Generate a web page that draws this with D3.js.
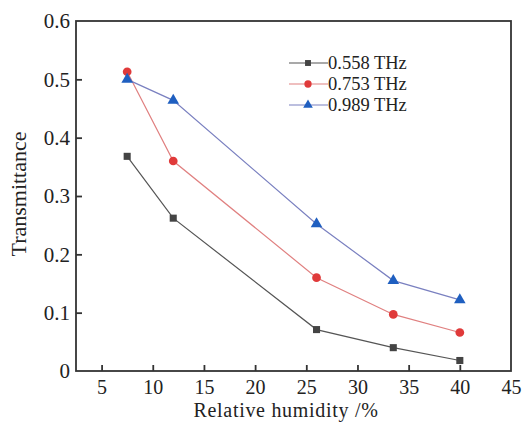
<!DOCTYPE html>
<html>
<head>
<meta charset="utf-8">
<script src="https://cdn.jsdelivr.net/npm/d3@7"></script>
<style>
  body { margin: 0; background: #fff; }
  .axis path, .axis line { stroke: #333; stroke-width: 1.8; }
</style>
</head>
<body>
<script>
// data
var humidity = [7.5, 12, 26, 33.5, 40];
var t558 = [0.368, 0.262, 0.071, 0.040, 0.018];
var t753 = [0.513, 0.360, 0.160, 0.097, 0.066];
var t989 = [0.500, 0.464, 0.252, 0.155, 0.122];
var seriesNames = ['0.558 THz', '0.753 THz', '0.989 THz'];
var xTicks = [5, 10, 15, 20, 25, 30, 35, 40, 45];
var yTicks = [0, 0.1, 0.2, 0.3, 0.4, 0.5, 0.6];

var width = 525, height = 426,
    plotL = 76, plotR = 511, plotT = 21, plotB = 371,
    serif = '"Liberation Serif", "Times New Roman", serif';

var series = [
  {name: seriesNames[0], values: t558, line: '#555', mark: '#444', shape: d3.symbolSquare, size: 50},
  {name: seriesNames[1], values: t753, line: '#e08080', mark: '#e03a3a', shape: d3.symbolCircle, size: 60},
  {name: seriesNames[2], values: t989, line: '#7a80c0', mark: '#1f5fc0', shape: d3.symbolTriangle, size: 58}
];

var x_scale = d3.scaleLinear().domain([2.5, 45]).range([plotL, plotR]);
var y_scale = d3.scaleLinear().domain([0, 0.6]).range([plotB, plotT]);

var svg = d3.select('body').append('svg')
    .attr('width', width)
    .attr('height', height);

// frame
svg.append('rect')
    .attr('x', plotL).attr('y', plotT)
    .attr('width', plotR - plotL).attr('height', plotB - plotT)
    .attr('fill', 'none').attr('stroke', '#333').attr('stroke-width', 1.8);

var x_axis = d3.axisBottom(x_scale).tickValues(xTicks).tickSizeInner(-6).tickSizeOuter(0).tickPadding(9);
var y_axis = d3.axisLeft(y_scale).tickValues(yTicks).tickSizeInner(-6).tickSizeOuter(0).tickPadding(6)
    .tickFormat(function(d){ return d === 0 ? '0' : d3.format('.1f')(d); });

svg.append('g')
    .attr('class', 'x axis')
    .attr('transform', 'translate(0,' + plotB + ')')
  .call(x_axis)
  .selectAll('text')
    .attr('fill', '#222')
    .style('font-family', serif)
    .style('font-size', '20px');

svg.append('g')
    .attr('class', 'y axis')
    .attr('transform', 'translate(' + plotL + ',0)')
  .call(y_axis)
  .selectAll('text')
    .attr('fill', '#222')
    .style('font-family', serif)
    .style('font-size', '21px');

svg.selectAll('.axis .domain').remove();
// hide ticks that sit on the frame corners
svg.selectAll('.x.axis .tick line').filter(function(d){ return d === 45; }).remove();
svg.selectAll('.y.axis .tick line').filter(function(d){ return d === 0 || d === 0.6; }).remove();

var line = d3.line()
    .x(function(d, i){ return x_scale(humidity[i]); })
    .y(function(d){ return y_scale(d); });

series.forEach(function(s) {
  svg.append('path')
      .attr('d', line(s.values))
      .attr('fill', 'none')
      .attr('stroke', s.line)
      .attr('stroke-width', 1.2);

  svg.selectAll(null)
      .data(s.values)
      .enter()
      .append('path')
      .attr('transform', function(d, i){ return 'translate(' + x_scale(humidity[i]) + ',' + y_scale(d) + ')'; })
      .attr('d', d3.symbol().type(s.shape).size(s.size))
      .attr('fill', s.mark);
});

// legend
var legend = svg.append('g').attr('transform', 'translate(289,63)');
series.forEach(function(s, i) {
  var g = legend.append('g').attr('transform', 'translate(0,' + (i * 21) + ')');
  g.append('line').attr('x1', 0).attr('x2', 39).attr('y1', 0).attr('y2', 0)
      .attr('stroke', s.line).attr('stroke-width', 1.2);
  g.append('path').attr('transform', 'translate(19,0)')
      .attr('d', d3.symbol().type(s.shape).size(s.size * 0.7))
      .attr('fill', s.mark);
  g.append('text').attr('x', 39).attr('y', 6)
      .attr('fill', '#222')
      .style('font-family', serif)
      .style('font-size', '18.5px')
      .text(s.name);
});

// axis titles
svg.append('text')
    .attr('x', 286)
    .attr('y', 417)
    .attr('text-anchor', 'middle')
    .attr('fill', '#222')
    .style('font-family', serif)
    .style('font-size', '20px')
    .style('letter-spacing', '0.7px')
    .text('Relative humidity /%');

svg.append('text')
    .attr('transform', 'translate(26,194) rotate(-90)')
    .attr('text-anchor', 'middle')
    .attr('fill', '#222')
    .style('font-family', serif)
    .style('font-size', '22px')
    .text('Transmittance');
</script>
</body>
</html>
